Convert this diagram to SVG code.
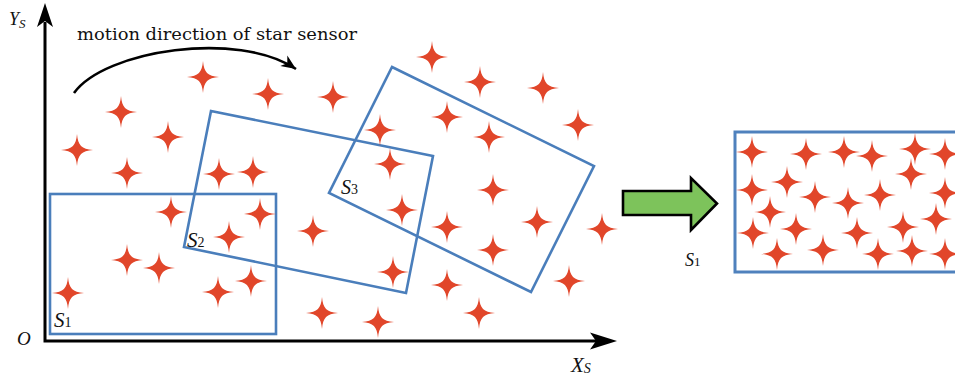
<svg xmlns="http://www.w3.org/2000/svg" xmlns:xlink="http://www.w3.org/1999/xlink" width="955" height="381" viewBox="0 0 955 381">
<style>
.ax{fill:none;stroke:#000;stroke-width:3;stroke-linejoin:miter}
.box{fill:none;stroke:#4A7EBB;stroke-width:2.6;stroke-linejoin:miter}
.star{fill:#E1462A}
.lbl{font-style:italic;fill:#111}
.sub{font-style:normal}
.txt{fill:#111}
</style>
<defs>
<path id="st" d="M0,-16 C1,-4.5 4.5,-1 16,0 C4.5,1 1,4.5 0,16 C-1,4.5 -4.5,1 -16,0 C-4.5,-1 -1,-4.5 0,-16 Z"/>
<marker id="ah" viewBox="0 0 10 10" refX="8" refY="5" markerWidth="7" markerHeight="7" markerUnits="userSpaceOnUse" orient="auto" overflow="visible">
<path d="M-13,-4 L8,5 L-13,14 L-7,5 Z" fill="#000"/>
</marker>
</defs>

<g id="axes">
<path class="ax" d="M45,22 V341 H598"/>
<polygon points="45,3 37,27 45,21 53,27" fill="#000"/>
<polygon points="617,341 590,332.5 596,341 590,349.5" fill="#000"/>
<text class="lbl" font-family="Liberation Serif, DejaVu Serif, serif" x="9" y="25" font-size="18">Y<tspan font-size="13" dy="3">S</tspan></text>
<text class="lbl" font-family="Liberation Serif, DejaVu Serif, serif" x="571" y="372" font-size="21">X<tspan font-size="14" dy="1">S</tspan></text>
<text class="lbl" font-family="Liberation Serif, DejaVu Serif, serif" x="17" y="345" font-size="19">O</text>
</g>

<g id="S1">
<rect class="box" x="50" y="194" width="226" height="140"/>
<text class="lbl" font-family="Liberation Serif, DejaVu Serif, serif" x="54" y="327" font-size="21">S<tspan class="sub" font-size="14">1</tspan></text>
</g>
<g id="S2">
<polygon class="box" points="211,111 433,156 406,293 184,247"/>
<text class="lbl" font-family="Liberation Serif, DejaVu Serif, serif" x="187" y="247" font-size="21">S<tspan class="sub" font-size="14">2</tspan></text>
</g>
<g id="S3">
<polygon class="box" points="392,67 594,166 531,292 329,193"/>
<text class="lbl" font-family="Liberation Serif, DejaVu Serif, serif" x="341" y="194" font-size="20">S<tspan class="sub" font-size="14">3</tspan></text>
</g>

<g id="stars" class="star">
<use xlink:href="#st" x="432" y="57"/>
<use xlink:href="#st" x="203" y="77"/>
<use xlink:href="#st" x="268" y="94"/>
<use xlink:href="#st" x="333" y="97"/>
<use xlink:href="#st" x="480" y="82"/>
<use xlink:href="#st" x="543" y="88"/>
<use xlink:href="#st" x="121" y="112"/>
<use xlink:href="#st" x="168" y="137"/>
<use xlink:href="#st" x="77" y="150"/>
<use xlink:href="#st" x="127" y="173"/>
<use xlink:href="#st" x="219" y="174"/>
<use xlink:href="#st" x="253" y="172"/>
<use xlink:href="#st" x="380" y="130"/>
<use xlink:href="#st" x="447" y="117"/>
<use xlink:href="#st" x="489" y="137"/>
<use xlink:href="#st" x="578" y="125"/>
<use xlink:href="#st" x="390" y="164"/>
<use xlink:href="#st" x="493" y="190"/>
<use xlink:href="#st" x="171" y="212"/>
<use xlink:href="#st" x="260" y="214"/>
<use xlink:href="#st" x="229" y="237"/>
<use xlink:href="#st" x="313" y="231"/>
<use xlink:href="#st" x="402" y="210"/>
<use xlink:href="#st" x="447" y="227"/>
<use xlink:href="#st" x="537" y="222"/>
<use xlink:href="#st" x="602" y="229"/>
<use xlink:href="#st" x="493" y="250"/>
<use xlink:href="#st" x="127" y="260"/>
<use xlink:href="#st" x="159" y="268"/>
<use xlink:href="#st" x="68" y="293"/>
<use xlink:href="#st" x="218" y="292"/>
<use xlink:href="#st" x="251" y="281"/>
<use xlink:href="#st" x="393" y="272"/>
<use xlink:href="#st" x="447" y="285"/>
<use xlink:href="#st" x="569" y="281"/>
<use xlink:href="#st" x="322" y="313"/>
<use xlink:href="#st" x="378" y="322"/>
<use xlink:href="#st" x="479" y="313"/>
</g>

<g id="motion-label">
<text class="txt" font-family="DejaVu Serif, serif" x="77" y="40" font-size="17" textLength="280" lengthAdjust="spacingAndGlyphs">motion direction of star sensor</text>
</g>

<g id="connectors">
<path d="M74,93 C105,50 238,30 296,69" fill="none" stroke="#000" stroke-width="2.6" marker-end="url(#ah)"/>
<polygon id="green-arrow" points="623,191 691,191 691,178 717,203.5 691,230 691,215 623,215" fill="#7DC35B" stroke="#000" stroke-width="2.6" stroke-linejoin="miter"/>
</g>

<g id="S1-image">
<rect x="735" y="132" width="240" height="140" fill="none" stroke="#4F81BD" stroke-width="3"/>
<text class="lbl" font-family="Liberation Serif, DejaVu Serif, serif" x="685" y="266" font-size="18">S<tspan class="sub" font-size="13">1</tspan></text>
<g class="star">
<use xlink:href="#st" x="752" y="152"/>
<use xlink:href="#st" x="806" y="154"/>
<use xlink:href="#st" x="844" y="152"/>
<use xlink:href="#st" x="872" y="156"/>
<use xlink:href="#st" x="915" y="149"/>
<use xlink:href="#st" x="945" y="154"/>
<use xlink:href="#st" x="911" y="174"/>
<use xlink:href="#st" x="787" y="182"/>
<use xlink:href="#st" x="752" y="190"/>
<use xlink:href="#st" x="815" y="197"/>
<use xlink:href="#st" x="848" y="203"/>
<use xlink:href="#st" x="880" y="195"/>
<use xlink:href="#st" x="945" y="193"/>
<use xlink:href="#st" x="770" y="212"/>
<use xlink:href="#st" x="796" y="229"/>
<use xlink:href="#st" x="753" y="233"/>
<use xlink:href="#st" x="857" y="233"/>
<use xlink:href="#st" x="903" y="227"/>
<use xlink:href="#st" x="936" y="219"/>
<use xlink:href="#st" x="777" y="254"/>
<use xlink:href="#st" x="823" y="250"/>
<use xlink:href="#st" x="878" y="254"/>
<use xlink:href="#st" x="912" y="251"/>
<use xlink:href="#st" x="945" y="254"/>
</g>
</g>
</svg>
